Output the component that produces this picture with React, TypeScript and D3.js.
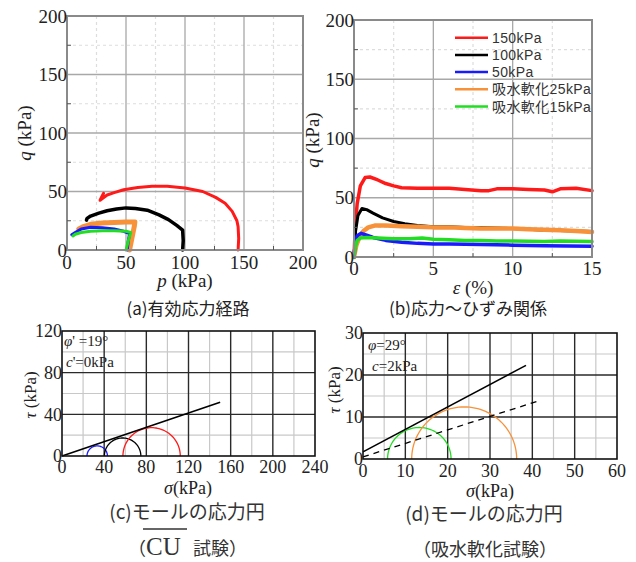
import React from "react";
import * as d3 from "d3";

// ---------- data ----------
const pqTicks = [0, 50, 100, 150, 200];
const pqMinor = [25, 75, 125, 175];
const epsTicks = [0, 5, 10, 15];
const epsMinor = [2.5, 7.5, 12.5];

const seriesNames = ["150kPa", "100kPa", "50kPa", "吸水軟化25kPa", "吸水軟化15kPa"];
const seriesColors = ["#ff1a1a", "#000000", "#1a1aff", "#f7923a", "#22dd22"];

// (a) effective stress paths  [p, q]
const pathRed = [[145, 0], [145.5, 10], [145, 20], [144, 25], [140, 33], [134, 40], [126, 45], [115, 50], [100, 53], [85, 54.5], [72, 54.5], [60, 53.5], [48, 51.5], [40, 49], [34, 47], [28, 42.5], [31, 48.5]];
const pathBlack = [[98, 0], [98.5, 8], [98, 17], [93, 21], [86, 26], [78, 30], [68, 34], [58, 35.5], [50, 36], [42, 35], [34, 33.5], [27, 31.5], [20, 29], [17, 27], [16.5, 25.5]];
const pathBlue = [[51, 0], [52, 8], [53, 14], [48, 16], [40, 18], [30, 19], [20, 19.5], [12, 18], [7, 15], [4, 13]];
const pathOrange = [[53, 0], [55, 10], [57, 20], [57.5, 24], [50, 24], [40, 23.5], [30, 23], [20, 22], [14, 20], [10, 18]];
const pathGreen = [[50, 0], [52, 8], [54, 15], [50, 16], [40, 16.5], [30, 16.5], [20, 16], [12, 15], [7, 13.5], [5, 12]];

// (b) stress-strain  [eps, q]
const ssRed = [[0, 0], [0.08, 25], [0.2, 45], [0.4, 60], [0.7, 67], [1, 67.5], [1.5, 65], [2, 62], [2.5, 60], [3, 58.5], [4, 58], [5, 58], [6, 58], [7, 57], [8, 56], [8.5, 56], [9, 57.5], [10, 57.5], [11, 57], [12, 56.5], [12.5, 55], [13, 57.5], [14, 58], [15, 56]];
const ssBlack = [[0, 0], [0.1, 22], [0.25, 35], [0.5, 41], [0.8, 40], [1.2, 37], [1.8, 33], [2.5, 30], [3.2, 28], [4, 26.5], [5, 25.5], [6, 25.5], [7, 25], [8, 25], [9, 24.5], [10, 24], [11, 23.5], [12, 22.5], [13, 22.3], [14, 22], [15, 21.5]];
const ssBlue = [[0, 0], [0.08, 12], [0.2, 18], [0.45, 20], [0.8, 18.5], [1.2, 16.5], [2, 14], [3, 12.5], [4, 11.5], [5, 11], [6, 11], [8, 10.5], [10, 10], [12, 9.5], [15, 9]];
const ssOrange = [[0, 0], [0.15, 10], [0.35, 17], [0.6, 22], [0.9, 25], [1.3, 26.5], [2, 26.5], [3, 26], [4, 25.5], [5, 25], [6, 25], [7, 24.5], [8, 24], [9, 24], [10, 24], [11, 23.5], [12, 23], [13, 22.5], [14, 22], [15, 21]];
const ssGreen = [[0, 0], [0.08, 8], [0.2, 14], [0.4, 16], [0.8, 16.5], [1.5, 16], [2.5, 15.5], [3.5, 15.5], [4.3, 16], [5, 15], [6, 14.5], [7, 14], [8, 14], [9, 13.5], [10, 13.5], [12, 13], [13, 13.5], [15, 13]];

// (c) Mohr circles, CU test
const cuTicksX = [0, 40, 80, 120, 160, 200, 240];
const cuMinorX = [20, 60, 100, 140, 180, 220];
const cuTicksY = [0, 40, 80, 120];
const cuMinorY = [20, 60, 100];
const cuCenters = [33.4, 57.5, 85];
const cuRadii = [9.7, 17.3, 27.2];
const cuColors = ["#1a1aff", "#000000", "#ff1a1a"];
const cuEnvelope = [[0, 0], [150, 51.6]];

// (d) Mohr circles, soaking-softening test
const sfTicksX = [0, 10, 20, 30, 40, 50, 60];
const sfMinorX = [5, 15, 25, 35, 45, 55];
const sfTicksY = [0, 10, 20, 30];
const sfMinorY = [5, 15, 25];
const sfCenters = [13.3, 23.9];
const sfRadii = [7.5, 12.4];
const sfColors = ["#22dd22", "#f7923a"];
const sfEnvelope = [[0, 1.7], [38.5, 22.3]];
const sfDashed = [[0, 0.5], [42, 14]];

// ---------- helpers ----------
const serif = "'Liberation Serif', Tinos, 'DejaVu Serif', 'Times New Roman', serif";
const cjk = "'Noto Sans CJK JP', sans-serif";
const sans = "'Liberation Sans', Arimo, Arial, 'Noto Sans CJK JP', sans-serif";

type S = d3.ScaleLinear<number, number>;

function Grid({ x, y, xt, yt, xm, ym, dark }: any) {
  const [x0, x1] = x.range();
  const [yb, yt0] = y.range();
  const majorC = dark ? "#2a2a2a" : "#a8a8a8";
  const minorC = dark ? "#c8c8c8" : "#dddddd";
  const dash = dark ? undefined : "3,3";
  const inner = (arr: number[], s: S) => arr.filter((v) => v !== s.domain()[0] && v !== s.domain()[1]);
  return (
    <g>
      {xm.map((v: number) => <line key={"xm" + v} x1={x(v)} x2={x(v)} y1={yt0} y2={yb} stroke={minorC} strokeWidth={1.2} strokeDasharray={dash} />)}
      {ym.map((v: number) => <line key={"ym" + v} x1={x0} x2={x1} y1={y(v)} y2={y(v)} stroke={minorC} strokeWidth={1.2} strokeDasharray={dash} />)}
      {inner(xt, x).map((v: number) => <line key={"xt" + v} x1={x(v)} x2={x(v)} y1={yt0} y2={yb} stroke={majorC} strokeWidth={dark ? 1.4 : 1.3} />)}
      {inner(yt, y).map((v: number) => <line key={"yt" + v} x1={x0} x2={x1} y1={y(v)} y2={y(v)} stroke={majorC} strokeWidth={dark ? 1.4 : 1.3} />)}
    </g>
  );
}

function Frame({ x, y, xt, yt, dark, fs, xOff, xm, ym }: any) {
  const [x0, x1] = x.range();
  const [yb, yt0] = y.range();
  return (
    <g>
      <rect x={x0} y={yt0} width={x1 - x0} height={yb - yt0} fill="none" stroke={dark ? "#111" : "#8a8a8a"} strokeWidth={dark ? 1.6 : 2} />
      {!dark && xm.map((v: number) => <line key={"tx" + v} x1={x(v)} x2={x(v)} y1={yb} y2={yb - 4} stroke="#555" />)}
      {!dark && ym.map((v: number) => <line key={"ty" + v} x1={x0} x2={x0 + 4} y1={y(v)} y2={y(v)} stroke="#555" />)}
      {xt.map((v: number) => (
        <text key={"lx" + v} x={x(v)} y={yb + xOff} textAnchor="middle" style={{ fontFamily: serif }} fontSize={fs} fill="#222">{v}</text>
      ))}
      {yt.map((v: number) => (
        <text key={"ly" + v} x={x0} y={y(v)} dy="0.35em" textAnchor="end" style={{ fontFamily: serif }} fontSize={fs} fill="#222">{v}</text>
      ))}
    </g>
  );
}

function semicircle(cx: number, r: number, x: S, y: S) {
  const pts = d3.range(0, 181, 3).map((a) => {
    const t = (a * Math.PI) / 180;
    return [cx + r * Math.cos(t), r * Math.sin(t)] as [number, number];
  });
  return d3.line<[number, number]>().x((d) => x(d[0])).y((d) => y(d[1]))(pts) || "";
}

const T = ({ style, ...rest }: any) => <text fill="#222" {...rest} style={{ fontFamily: serif, ...style }} />;

export default function App() {
  // (a)
  const xa = d3.scaleLinear().domain([0, 200]).range([67, 303]);
  const ya = d3.scaleLinear().domain([0, 200]).range([250, 16]);
  const la = d3.line<number[]>().x((d) => xa(d[0])).y((d) => ya(d[1]));
  // (b)
  const xb = d3.scaleLinear().domain([0, 15]).range([354, 592]);
  const yb = d3.scaleLinear().domain([0, 200]).range([257, 20]);
  const lb = d3.line<number[]>().x((d) => xb(d[0])).y((d) => yb(d[1]));
  // (c)
  const xc = d3.scaleLinear().domain([0, 240]).range([62, 315]);
  const yc = d3.scaleLinear().domain([0, 120]).range([456, 331]);
  const lc = d3.line<number[]>().x((d) => xc(d[0])).y((d) => yc(d[1]));
  // (d)
  const xd = d3.scaleLinear().domain([0, 60]).range([363, 617]);
  const yd = d3.scaleLinear().domain([0, 30]).range([459, 333]);
  const ld = d3.line<number[]>().x((d) => xd(d[0])).y((d) => yd(d[1]));

  const aPaths = [pathRed, pathBlack, pathBlue, pathOrange, pathGreen];
  const aWidths = [3, 3.5, 3, 5, 3];
  const bPaths = [ssRed, ssBlack, ssBlue, ssOrange, ssGreen];
  const bWidths = [3.5, 3, 3.5, 4.5, 3.5];
  const drawOrder = [0, 1, 3, 2, 4];

  return (
    <svg width={636} height={562} style={{ position: "absolute", left: 0, top: 0, background: "#fff" }}>
      <rect width={636} height={562} fill="#fff" />

      {/* (a) effective stress path */}
      <Grid x={xa} y={ya} xt={pqTicks} yt={pqTicks} xm={pqMinor} ym={pqMinor} />
      <g fill="none" strokeLinejoin="round" strokeLinecap="round">
        {drawOrder.map((i) => (
          <path key={"a" + i} d={la(aPaths[i]) || ""} stroke={seriesColors[i]} strokeWidth={aWidths[i]} />
        ))}
      </g>
      <Frame x={xa} y={ya} xt={pqTicks} yt={pqTicks} xm={pqMinor} ym={pqMinor} fs={19} xOff={18.5} />
      <T x={185} y={287} textAnchor="middle" fontSize={19}>
        <tspan fontStyle="italic">p</tspan> (kPa)
      </T>
      <T transform="translate(31,133) rotate(-90)" textAnchor="middle" fontSize={19}>
        <tspan fontStyle="italic">q</tspan> (kPa)
      </T>
      <text x={188} y={315} textAnchor="middle" style={{ fontFamily: cjk }} fontSize={17} fill="#222">(a)有効応力経路</text>

      {/* (b) stress-strain */}
      <Grid x={xb} y={yb} xt={epsTicks} yt={pqTicks} xm={epsMinor} ym={pqMinor} />
      <g fill="none" strokeLinejoin="round" strokeLinecap="round">
        {drawOrder.map((i) => (
          <path key={"b" + i} d={lb(bPaths[i]) || ""} stroke={seriesColors[i]} strokeWidth={bWidths[i]} />
        ))}
      </g>
      <Frame x={xb} y={yb} xt={epsTicks} yt={pqTicks} xm={epsMinor} ym={pqMinor} fs={19} xOff={18} />
      <T x={473} y={294} textAnchor="middle" fontSize={19}>
        <tspan fontStyle="italic">ε</tspan> (%)
      </T>
      <T transform="translate(319,140) rotate(-90)" textAnchor="middle" fontSize={19}>
        <tspan fontStyle="italic">q</tspan> (kPa)
      </T>
      <g>
        {seriesNames.map((n, i) => (
          <g key={n} transform={`translate(455,${37.7 + i * 17.2})`}>
            <line x1={0} x2={33} y1={0} y2={0} stroke={seriesColors[i]} strokeWidth={2.5} />
            <text x={37} y={0} dy="0.36em" style={{ fontFamily: sans, letterSpacing: "0.4px" }} fontSize={14} fill="#333">{n}</text>
          </g>
        ))}
      </g>
      <text x={468} y={315} textAnchor="middle" style={{ fontFamily: cjk }} fontSize={17} fill="#222">(b)応力～ひずみ関係</text>

      {/* (c) Mohr circles CU */}
      <Grid x={xc} y={yc} xt={cuTicksX} yt={cuTicksY} xm={cuMinorX} ym={cuMinorY} dark />
      <g fill="none">
        {cuCenters.map((c, i) => (
          <path key={"c" + i} d={semicircle(c, cuRadii[i], xc, yc)} stroke={cuColors[i]} strokeWidth={1.3} />
        ))}
        <path d={lc(cuEnvelope) || ""} stroke="#000" strokeWidth={1.6} />
      </g>
      <Frame x={xc} y={yc} xt={cuTicksX} yt={cuTicksY} xm={[]} ym={[]} fs={18} xOff={17} dark />
      <T x={64} y={346} fontSize={15}>
        <tspan fontStyle="italic">φ</tspan>' =19°
      </T>
      <T x={66} y={367} fontSize={15}>
        <tspan fontStyle="italic">c</tspan>'=0kPa
      </T>
      <T x={188} y={494} textAnchor="middle" fontSize={18}>
        <tspan fontStyle="italic">σ</tspan>(kPa)
      </T>
      <T transform="translate(36,395) rotate(-90)" textAnchor="middle" fontSize={17}>
        <tspan fontStyle="italic">τ</tspan> (kPa)
      </T>
      <text x={187} y={519} textAnchor="middle" style={{ fontFamily: cjk }} fontSize={19} fill="#333">(c)モールの応力円</text>
      <text x={128} y={555} style={{ fontFamily: cjk }} fontSize={18} fill="#333">（</text>
      <T x={146} y={555} fontSize={25} fill="#333">CU</T>
      <line x1={143} x2={187} y1={529} y2={529} stroke="#333" strokeWidth={1.3} />
      <text x={193} y={555} style={{ fontFamily: cjk }} fontSize={18} fill="#333">試験）</text>

      {/* (d) Mohr circles soaking */}
      <Grid x={xd} y={yd} xt={sfTicksX} yt={sfTicksY} xm={sfMinorX} ym={sfMinorY} dark />
      <g fill="none">
        {sfCenters.map((c, i) => (
          <path key={"d" + i} d={semicircle(c, sfRadii[i], xd, yd)} stroke={sfColors[i]} strokeWidth={1.3} />
        ))}
        <path d={ld(sfEnvelope) || ""} stroke="#000" strokeWidth={1.6} />
        <path d={ld(sfDashed) || ""} stroke="#000" strokeWidth={1.3} strokeDasharray="6,5" />
      </g>
      <Frame x={xd} y={yd} xt={sfTicksX} yt={sfTicksY} xm={[]} ym={[]} fs={18} xOff={17.5} dark />
      <T x={368} y={350} fontSize={15}>
        <tspan fontStyle="italic">φ</tspan>=29°
      </T>
      <T x={372} y={371} fontSize={15}>
        <tspan fontStyle="italic">c</tspan>=2kPa
      </T>
      <T x={490} y={497} textAnchor="middle" fontSize={18}>
        <tspan fontStyle="italic">σ</tspan>(kPa)
      </T>
      <T transform="translate(340,390) rotate(-90)" textAnchor="middle" fontSize={17}>
        <tspan fontStyle="italic">τ</tspan> (kPa)
      </T>
      <text x={484} y={521} textAnchor="middle" style={{ fontFamily: cjk }} fontSize={19} fill="#333">(d)モールの応力円</text>
      <text x={485} y={556} textAnchor="middle" style={{ fontFamily: cjk }} fontSize={18} fill="#333">（吸水軟化試験）</text>
    </svg>
  );
}
